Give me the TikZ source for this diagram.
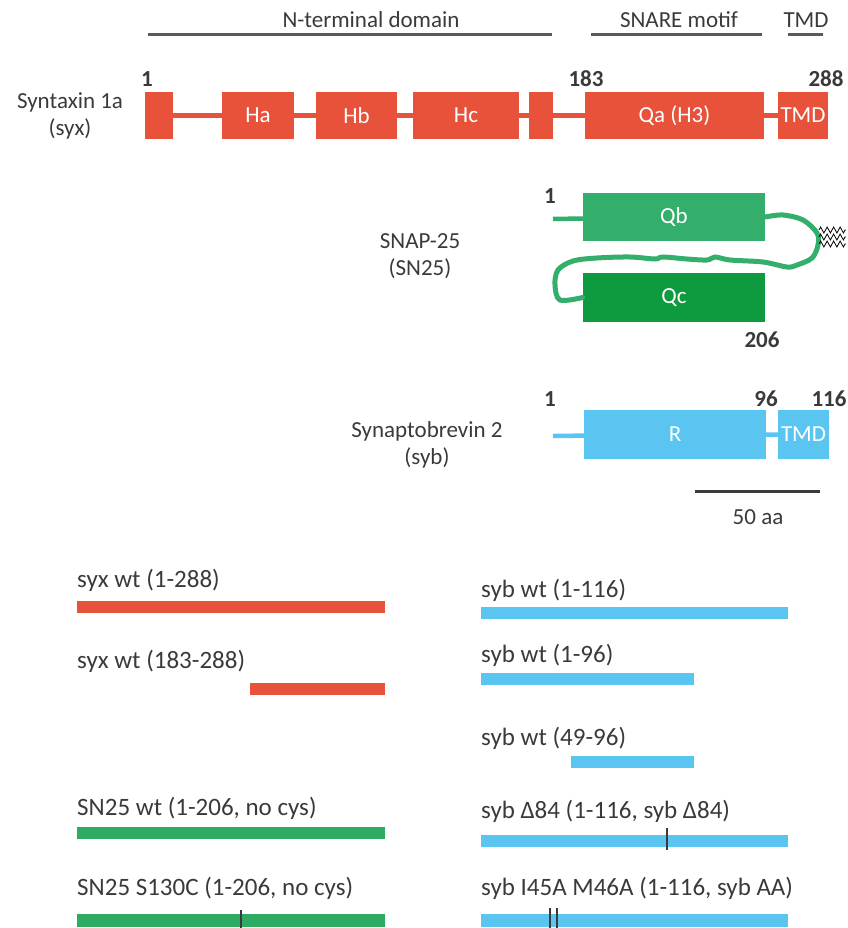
\documentclass[tikz,border=0pt]{standalone}
\usepackage{fontspec}
\setmainfont{Carlito}
\usetikzlibrary{decorations.pathmorphing}
\definecolor{syxred}{HTML}{E8513A}
\definecolor{sybblue}{HTML}{5BC5F2}
\definecolor{qbgreen}{HTML}{33AE6B}
\definecolor{qcgreen}{HTML}{0E9A3E}
\definecolor{sngreen}{HTML}{2EAB63}
\definecolor{txtgray}{HTML}{3A3A3A}
\definecolor{hdrgray}{HTML}{5A5A5A}
\tikzset{
  lbl/.style={text=txtgray, font=\fontsize{23}{27}\selectfont, align=center},
  num/.style={text=txtgray, font=\fontsize{23}{27}\selectfont\bfseries},
  dom/.style={fill=#1, inner sep=0, minimum height=47, text=white, font=\fontsize{23}{27}\selectfont},
  link/.style={draw=#1, line width=4.5},
  bar/.style={fill=#1, inner sep=0, minimum height=12, anchor=north west},
  cname/.style={text=txtgray, font=\fontsize{25}{29}\selectfont, anchor=base west, inner sep=0},
  hdr/.style={draw=hdrgray, line width=3},
  mut/.style={draw=txtgray, line width=2.5}
}
\begin{document}
\begin{tikzpicture}[x=1pt,y=-1pt]
  \useasboundingbox (0,0) rectangle (847,928);
  \node[lbl] (tn) at (371,20) {N-terminal domain};
  \node[lbl] (ts) at (679,20) {SNARE motif};
  \node[lbl] (tt) at (806,20) {TMD};
  \draw[hdr] (148,35) -- (552,35);
  \draw[hdr] (591,35) -- (762,35);
  \draw[hdr] (788,35) -- (823,35);

  \node[lbl] (syx) at (70,116) {Syntaxin 1a\\(syx)};
  \node[dom=syxred, minimum width=28] (s1) at (159,115.5) {};
  \node[dom=syxred, minimum width=72] (ha) at (258,115.5) {Ha};
  \node[dom=syxred, minimum width=81] (hb) at (356.5,115.5) {Hb};
  \node[dom=syxred, minimum width=106] (hc) at (466,115.5) {Hc};
  \node[dom=syxred, minimum width=24] (s2) at (541,115.5) {};
  \node[dom=syxred, minimum width=179] (qa) at (674.5,115.5) {Qa (H3)};
  \node[dom=syxred, minimum width=50] (st) at (803,115.5) {TMD};
  \draw[link=syxred] (s1) -- (ha) -- (hb) -- (hc) -- (s2) -- (qa) -- (st);
  \node[num] (n1) at (147,79) {1};
  \node[num] (n183) at (586,79) {183};
  \node[num] (n288) at (826,79) {288};

  \node[lbl] (sn) at (420,256) {SNAP-25\\(SN25)};
  \node[dom=qbgreen, minimum width=182, minimum height=48] (qb) at (674,217) {Qb};
  \node[dom=qcgreen, minimum width=182, minimum height=49] (qc) at (674,297.5) {Qc};
  \coordinate (q0) at (553,219);
  \draw[link=qbgreen] (q0) -- (qb);
  \draw[qbgreen, line width=5, line cap=round] plot[smooth, tension=0.55] coordinates {(qb.east) (783,215) (803,220) (817,233) (818,245) (812,258) (797,265) (787,267) (763,262) (730,260) (715,257) (707,260) (687,259) (663,257) (655,259) (630,257) (597,258) (573,261) (558,270) (555,285) (560,300) (qc.west)};
  \foreach \y in {230,237,244}
    \draw[black, line width=0.8, decorate, decoration={zigzag, segment length=6.5, amplitude=3}] (819,\y) -- (846,\y);
  \node[num] (m1) at (550,196) {1};
  \node[num] (m206) at (762,340) {206};

  \node[lbl] (syb) at (427,445) {Synaptobrevin 2\\(syb)};
  \node[dom=sybblue, minimum width=182, minimum height=49] (r) at (675,434.5) {R};
  \node[dom=sybblue, minimum width=51, minimum height=49] (bt) at (803.5,434.5) {TMD};
  \coordinate (b0) at (553,436);
  \draw[link=sybblue] (b0) -- (r) -- (bt);
  \node[num] (k1) at (550,399) {1};
  \node[num] (k96) at (766,399) {96};
  \node[num] (k116) at (829,399) {116};
  \draw[txtgray, line width=3] (695,491) -- (820,491);
  \node[lbl] (aa) at (758,517) {50 aa};

  \node[bar=syxred, minimum width=308] (x1) at (77,601) {};
  \node[cname] at (77,587) {syx wt (1-288)};
  \node[bar=syxred, minimum width=135] (x2) at (250,683) {};
  \node[cname] at (77,668) {syx wt (183-288)};
  \node[bar=sngreen, minimum width=308] (g1) at (77,827) {};
  \node[cname] at (77,815) {SN25 wt (1-206, no cys)};
  \node[bar=sngreen, minimum width=308, minimum height=13] (g2) at (77,914) {};
  \node[cname] at (77,895) {SN25 S130C (1-206, no cys)};
  \draw[mut] (241,910) -- (241,928);

  \node[bar=sybblue, minimum width=307] (y1) at (481,607) {};
  \node[cname] at (481,597) {syb wt (1-116)};
  \node[bar=sybblue, minimum width=213] (y2) at (481,673) {};
  \node[cname] at (481,662) {syb wt (1-96)};
  \node[bar=sybblue, minimum width=123] (y3) at (571,756) {};
  \node[cname] at (481,745) {syb wt (49-96)};
  \node[bar=sybblue, minimum width=307] (y4) at (481,835) {};
  \node[cname] at (481,818) {syb Δ84 (1-116, syb Δ84)};
  \draw[mut] (667,828) -- (667,850);
  \node[bar=sybblue, minimum width=307, minimum height=13] (y5) at (481,914) {};
  \node[cname] at (481,895) {syb I45A M46A (1-116, syb AA)};
  \draw[mut] (550,908) -- (550,928);
  \draw[mut] (557,908) -- (557,928);
\end{tikzpicture}
\end{document}
